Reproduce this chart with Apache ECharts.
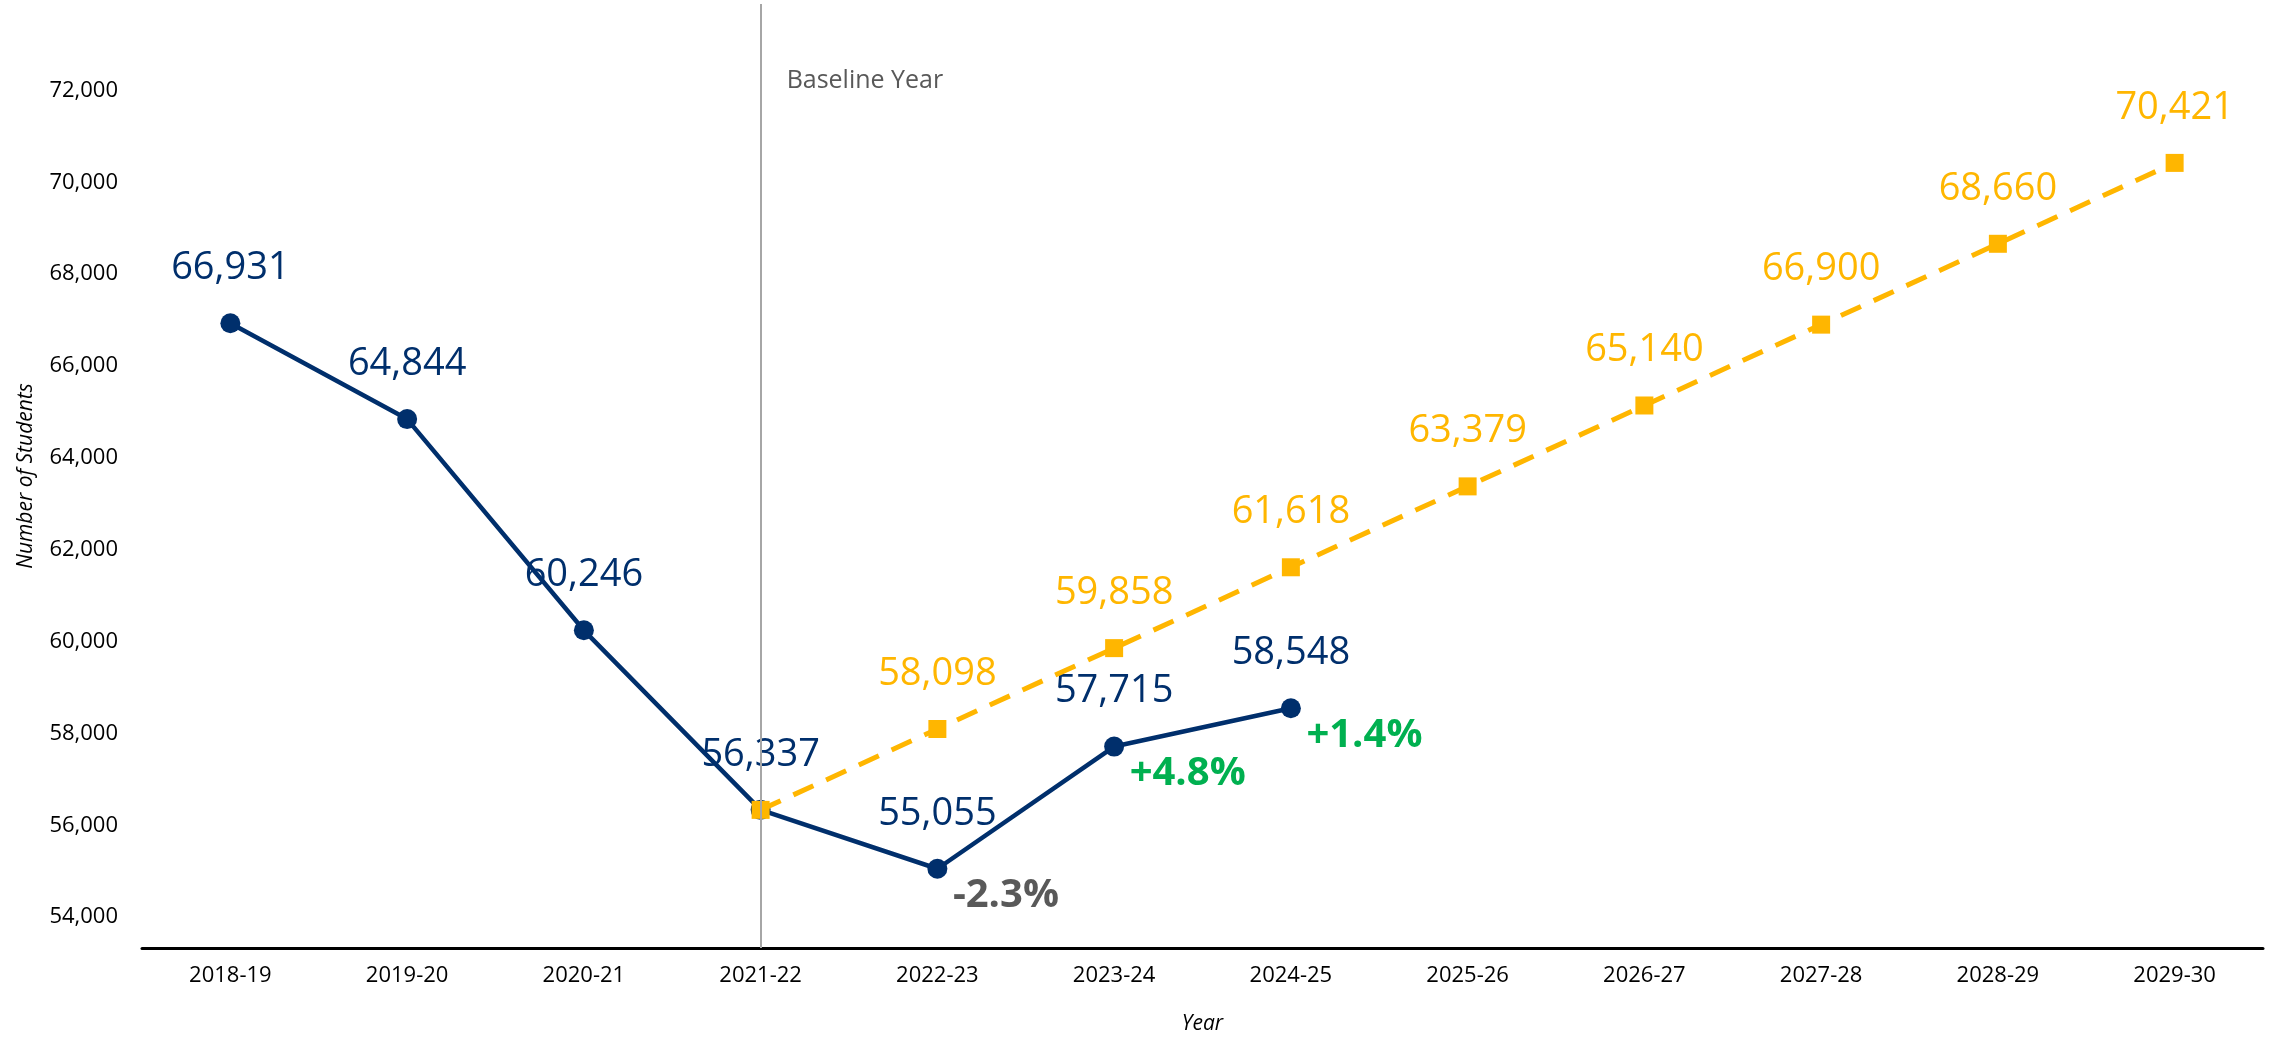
<!DOCTYPE html>
<html>
<head>
<meta charset="utf-8">
<script src="https://cdn.jsdelivr.net/npm/echarts@6/dist/echarts.min.js"></script>
<style>
  html, body { margin: 0; padding: 0; background: #fff; }
  #chart-box { width: 2272px; height: 1038px; }
</style>
</head>
<body>
<div id="chart-box"></div>
<script>
// data
var years = ['2018-19', '2019-20', '2020-21', '2021-22', '2022-23', '2023-24', '2024-25',
             '2025-26', '2026-27', '2027-28', '2028-29', '2029-30'];
var actual = [66931, 64844, 60246, 56337, 55055, 57715, 58548, null, null, null, null, null];
var projected = [null, null, null, 56337, 58098, 59858, 61618, 63379, 65140, 66900, 68660, 70421];
var pctChange = [null, null, null, null, -2.3, 4.8, 1.4, null, null, null, null, null];
var baselineYear = '2021-22';

var navy = '#002F6C';
var gold = '#FFB600';
var fontFam = '"Open Sans", "Noto Sans", sans-serif';

function fmt(v) {
    return Number(v).toLocaleString('en-US');
}

// percent labels sit next to the actual points
var pctData = pctChange.map(function(p, i) {
    if (p === null) return null;
    return {
        value: actual[i],
        label: {
            formatter: (p > 0 ? '+' : '') + p.toFixed(1) + '%',
            color: p < 0 ? '#595959' : '#00B050'
        }
    };
});

var myChart = echarts.init(document.getElementById('chart-box'));

var option = {
    animation: false,
    grid: {
        left: 142,
        right: 9,
        top: 4,
        bottom: 90,
        containLabel: false,
        outerBoundsMode: 'none'
    },
    xAxis: {
        type: 'category',
        data: years,
        name: 'Year',
        nameLocation: 'middle',
        nameGap: 66,
        nameTextStyle: {
            fontFamily: fontFam,
            fontStyle: 'italic',
            fontSize: 21,
            color: '#000'
        },
        axisLine: { lineStyle: { color: '#000', width: 3 } },
        axisTick: { alignWithLabel: true, length: 10, lineStyle: { color: '#000', width: 2 } },
        axisLabel: {
            fontFamily: fontFam,
            fontSize: 22,
            color: '#000',
            margin: 17
        }
    },
    yAxis: {
        type: 'value',
        min: 53330,
        max: 73880,
        splitNumber: 10,
        name: 'Number of Students',
        nameLocation: 'middle',
        nameGap: 105,
        nameTextStyle: {
            fontFamily: fontFam,
            fontStyle: 'italic',
            fontSize: 21,
            color: '#000'
        },
        axisLine: { show: false },
        axisTick: { show: false },
        splitLine: { show: false },
        axisLabel: {
            fontFamily: fontFam,
            fontSize: 22,
            color: '#000',
            margin: 24,
            formatter: function(v) {
                return v % 2000 === 0 ? fmt(v) : '';
            }
        }
    },
    series: [
        {
            name: 'Actual',
            type: 'line',
            data: actual,
            z: 2,
            symbol: 'circle',
            symbolSize: 20,
            itemStyle: { color: navy },
            lineStyle: { color: navy, width: 4.5 },
            label: {
                show: true,
                position: 'top',
                distance: 26,
                fontFamily: fontFam,
                fontSize: 38,
                color: navy,
                formatter: function(p) { return fmt(p.value); }
            },
            markLine: {
                silent: true,
                symbol: ['none', 'none'],
                label: { show: false },
                lineStyle: { color: '#A6A6A6', width: 2, type: 'solid' },
                data: [{ xAxis: baselineYear }]
            }
        },
        {
            name: 'Projected',
            type: 'line',
            data: projected,
            z: 3,
            symbol: 'rect',
            symbolSize: 18,
            itemStyle: { color: gold },
            lineStyle: { color: gold, width: 5, type: [22, 14] },
            label: {
                show: true,
                position: 'top',
                distance: 27,
                fontFamily: fontFam,
                fontSize: 38,
                color: gold,
                formatter: function(p) {
                    return years[p.dataIndex] === baselineYear ? '' : fmt(p.value);
                }
            }
        },
        {
            name: 'Change',
            type: 'scatter',
            data: pctData,
            z: 4,
            symbolSize: 1,
            itemStyle: { color: 'rgba(0,0,0,0)', opacity: 1 },
            label: {
                show: true,
                position: 'right',
                distance: 15,
                offset: [0, 27],
                opacity: 1,
                fontFamily: fontFam,
                fontSize: 40,
                fontWeight: 'bold'
            }
        }
    ]
};

myChart.setOption(option);

// "Baseline Year" note placed from the axis scale
var bx = myChart.convertToPixel({ xAxisIndex: 0 }, baselineYear);
myChart.setOption({
    graphic: [{
        type: 'text',
        left: bx + 26,
        top: 68,
        style: {
            text: 'Baseline Year',
            fontFamily: fontFam,
            fontSize: 25,
            fill: '#595959'
        }
    }]
});
</script>
</body>
</html>
